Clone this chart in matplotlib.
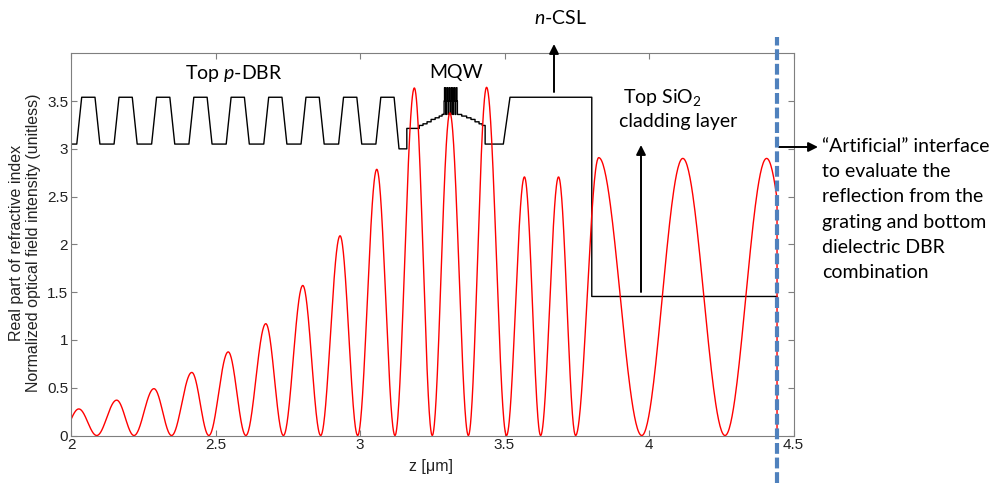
#!/usr/bin/env python3
# plot.py
# Refractive index profile and optical field intensity across the VCSEL top section

import numpy as np
import matplotlib

matplotlib.use("Agg")
import matplotlib.pyplot as plt

W, H = 997, 483

# --- refractive index profile (z in um, real part of n) ---
# top p-DBR: graded trapezoid corners, last fall drops to the 3.0 spacer
dbr_z = [2.000, 2.020, 2.037, 2.083, 2.100,
         2.149, 2.166, 2.212, 2.229,
         2.279, 2.296, 2.342, 2.359,
         2.408, 2.425, 2.471, 2.488,
         2.537, 2.554, 2.600, 2.617,
         2.667, 2.684, 2.730, 2.747,
         2.796, 2.813, 2.859, 2.876,
         2.926, 2.943, 2.989, 3.006,
         3.055, 3.072, 3.118, 3.135, 3.162]
dbr_n = [3.05, 3.05, 3.54, 3.54, 3.05,
         3.05, 3.54, 3.54, 3.05,
         3.05, 3.54, 3.54, 3.05,
         3.05, 3.54, 3.54, 3.05,
         3.05, 3.54, 3.54, 3.05,
         3.05, 3.54, 3.54, 3.05,
         3.05, 3.54, 3.54, 3.05,
         3.05, 3.54, 3.54, 3.05,
         3.05, 3.54, 3.54, 3.00, 3.00]

# graded SCH on both sides of the quantum wells (step edges and levels)
sch_left_edges = [3.162, 3.205, 3.218, 3.232, 3.246, 3.260, 3.274, 3.284]
sch_left_n = [3.214, 3.245, 3.262, 3.283, 3.308, 3.325, 3.343, 3.36]
sch_left_end = 3.290

mqw_centers = [3.294, 3.302, 3.310, 3.318, 3.326, 3.334]
mqw_levels = [3.36, 3.50, 3.64]

sch_right_edges = [3.338, 3.352, 3.369, 3.384, 3.398, 3.412, 3.423, 3.433]
sch_right_n = [3.36, 3.343, 3.325, 3.308, 3.283, 3.262, 3.245, 3.05]
sch_right_end = 3.496

# n-CSL and top SiO2 cladding up to the artificial interface
csl_z = [3.496, 3.519, 3.802, 3.802, 4.443]
csl_n = [3.05, 3.54, 3.54, 1.455, 1.455]

interface_z = 4.443

# --- optical field intensity: zeros and lobe peaks ---
field_zeros = [1.965, 2.089, 2.218, 2.348, 2.477, 2.605, 2.735, 2.864, 2.992,
               3.121, 3.250, 3.375, 3.507, 3.625, 3.746, 3.975, 4.263, 4.551]
field_peak_z = [2.027, 2.158, 2.287, 2.418, 2.544, 2.674, 2.802, 2.931, 3.058,
                3.188, 3.311, 3.438, 3.569, 3.687, 3.826, 4.117, 4.407]
field_peak = [0.278, 0.37, 0.49, 0.66, 0.875, 1.17, 1.57, 2.09, 2.786,
              3.637, 3.377, 3.644, 2.706, 2.706, 2.908, 2.90, 2.90]

x_ticks = [2, 2.5, 3, 3.5, 4, 4.5]
x_tick_labels = ["2", "2.5", "3", "3.5", "4", "4.5"]
y_ticks = [0, 0.5, 1, 1.5, 2, 2.5, 3, 3.5]
y_tick_labels = ["0", "0.5", "1", "1.5", "2", "2.5", "3", "3.5"]

interface_note = ["\u201cArtificial\u201d interface", "to evaluate the",
                  "reflection from the", "grating and bottom",
                  "dielectric DBR", "combination"]

plt.rcParams["font.family"] = ["Liberation Sans", "DejaVu Sans"]
plt.rcParams["mathtext.fontset"] = "custom"
plt.rcParams["mathtext.rm"] = "Lato"
plt.rcParams["mathtext.it"] = "Lato:italic"

NOTE_FONT = ["Lato", "DejaVu Sans"]
NOTE_SIZE = 14


def px(x, y):
    # pixel position in the 997x483 canvas -> figure fraction
    return x / W, 1 - y / H


def _steps(edges, levels, end):
    bounds = list(edges) + [end]
    zs, ns = [], []
    for i, lev in enumerate(levels):
        zs += [bounds[i], bounds[i + 1]]
        ns += [lev, lev]
    return zs, ns


def _mqw_comb(centers, levels):
    base, mid, top = levels
    zs, ns = [], []
    for c in centers:
        zs += [c - 0.003, c - 0.003, c - 0.0015, c - 0.0015,
               c + 0.0015, c + 0.0015, c + 0.003, c + 0.003]
        ns += [base, mid, mid, top, top, mid, mid, base]
    return zs, ns


def index_profile():
    z, n = list(dbr_z), list(dbr_n)
    for zs, ns in (
        _steps(sch_left_edges, sch_left_n, sch_left_end),
        _mqw_comb(mqw_centers, mqw_levels),
        _steps(sch_right_edges, sch_right_n, sch_right_end),
        (csl_z, csl_n),
    ):
        z += zs
        n += ns
    return np.array(z), np.array(n)


def field_profile():
    zs, vs = [], []
    for i, amp in enumerate(field_peak):
        z0, zp, z1 = field_zeros[i], field_peak_z[i], field_zeros[i + 1]
        left = np.linspace(z0, zp, 60)
        right = np.linspace(zp, z1, 60)[1:]
        zs += list(left) + list(right)
        vs += list(amp * np.sin(np.pi / 2 * (left - z0) / (zp - z0)) ** 2)
        vs += list(amp * np.sin(np.pi / 2 * (z1 - right) / (z1 - zp)) ** 2)
    z = np.array(zs)
    v = np.array(vs)
    keep = z <= interface_z
    z = np.append(z[keep], [interface_z, interface_z])
    v = np.append(v[keep], [np.interp(interface_z, zs, vs), 0.0])
    return z, v


def main():
    fig = plt.figure(figsize=(W / 100, H / 100), dpi=100)
    l, b = px(71, 435.5)
    r, t = px(793.5, 53.3)
    ax = fig.add_axes([l, b, r - l, t - b])

    zi, ni = index_profile()
    ax.plot(zi, ni, color="black", lw=1.0)
    zf, vf = field_profile()
    ax.plot(zf, vf, color="#ff0000", lw=1.0)

    ax.set_xlim(2, 4.5)
    ax.set_ylim(0, 4)
    ax.set_xticks(x_ticks)
    ax.set_xticklabels(x_tick_labels)
    ax.set_yticks(y_ticks)
    ax.set_yticklabels(y_tick_labels)
    ax.tick_params(direction="in", length=4.5, width=0.8, color="#7f7f7f",
                   labelsize=11, labelcolor="#222222", pad=2,
                   top=True, right=True)
    for sp in ax.spines.values():
        sp.set_color("#7f7f7f")
        sp.set_linewidth(0.8)

    fig.text(*px(431, 467), "z [μm]", fontsize=11.5, color="#222222",
             ha="center", va="center")
    fig.text(*px(25, 243), "Real part of refractive index\n"
             "Normalized optical field intensity (unitless)",
             fontsize=11.5, color="#222222", rotation=90,
             ha="center", va="center", multialignment="center",
             linespacing=1.2)

    # artificial interface
    y_lo = (435.5 - H) / (435.5 - 53.3)
    y_hi = (435.5 - 37) / (435.5 - 53.3)
    ax.axvline(interface_z, ymin=y_lo, ymax=y_hi, clip_on=False,
               color="#4f81bd", lw=3.0, dashes=(2.6, 0.9), zorder=5)

    # annotations
    fig.text(*px(234, 73), "Top $p$-DBR", family=NOTE_FONT, fontsize=NOTE_SIZE,
             ha="center", va="center")
    fig.text(*px(456, 72), "MQW", family=NOTE_FONT, fontsize=NOTE_SIZE,
             ha="center", va="center")
    fig.text(*px(560, 18), "$n$-CSL", family=NOTE_FONT, fontsize=NOTE_SIZE,
             ha="center", va="center")
    fig.text(*px(623, 97), "Top SiO$_2$", family=NOTE_FONT,
             fontsize=NOTE_SIZE, ha="left", va="center")
    fig.text(*px(619, 122), "cladding layer", family=NOTE_FONT,
             fontsize=NOTE_SIZE, ha="left", va="center")
    for i, line in enumerate(interface_note):
        fig.text(*px(822, 146 + 25.4 * i), line, family=NOTE_FONT,
                 fontsize=NOTE_SIZE, ha="left", va="center")

    arrow = dict(arrowstyle="-|>", mutation_scale=14, lw=1.4, color="black",
                 shrinkA=0, shrinkB=0)
    ax.annotate("", xy=px(554, 44), xytext=px(554, 92),
                xycoords="figure fraction", textcoords="figure fraction",
                arrowprops=arrow)
    ax.annotate("", xy=px(641, 145), xytext=px(641, 292),
                xycoords="figure fraction", textcoords="figure fraction",
                arrowprops=arrow)
    ax.annotate("", xy=px(818, 147), xytext=px(779, 147),
                xycoords="figure fraction", textcoords="figure fraction",
                arrowprops=arrow)

    fig.savefig("out.png", dpi=100)
    plt.close(fig)


if __name__ == "__main__":
    main()
